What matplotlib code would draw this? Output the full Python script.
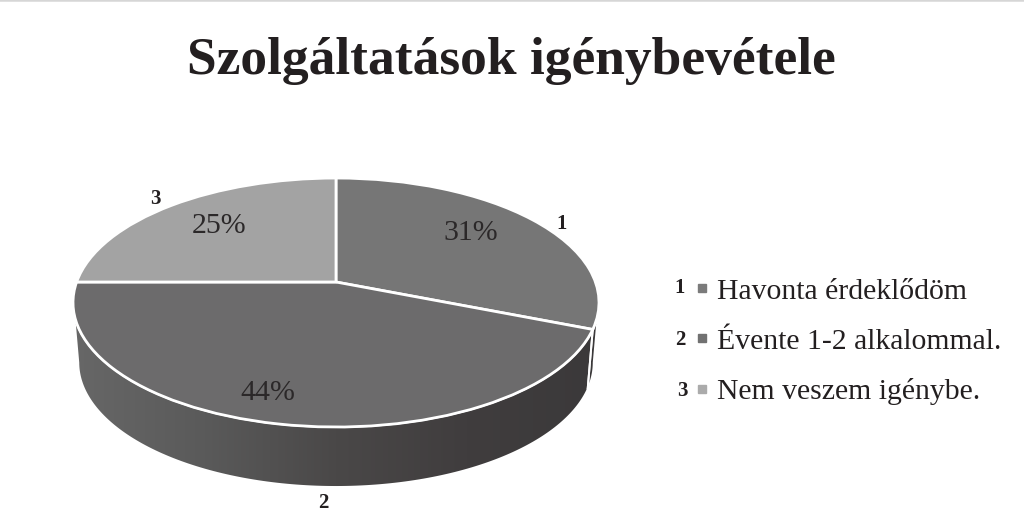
import numpy as np
import matplotlib
matplotlib.use("Agg")
import matplotlib.pyplot as plt
from matplotlib.lines import Line2D
from matplotlib.patches import Polygon
from matplotlib.transforms import Transform
from matplotlib.colors import LinearSegmentedColormap

plt.rcParams['font.family'] = ['Liberation Serif', 'DejaVu Serif']

title = "Szolgáltatások igénybevétele"
categories = ["Havonta érdeklődöm", "Évente 1-2 alkalommal.", "Nem veszem igénybe."]
numbers = ["1", "2", "3"]
shares = [31, 44, 25]
top_colors = ["#767676", "#6c6b6c", "#a3a3a3"]
legend_colors = ["#7b7b7b", "#717171", "#ababab"]
wall_stops = ["#676767", "#5a5a5a", "#4a4848", "#403d3e", "#3b393a"]

# perspective camera for the tilted pie, in pixel space
CX, CY, A, B, K = 336.0, 282.0, 259.4, 121.1, 0.1648
DEPTH, SHRINK = 60.0, 0.98


def project(pts, bottom=False):
    pts = np.asarray(pts, dtype=float)
    u, v = pts[:, 0], pts[:, 1]
    w = 1 + K * v
    s = SHRINK if bottom else 1.0
    return np.column_stack([CX + s * A * u / w, CY - B * v / w + (DEPTH if bottom else 0)])


class Tilt(Transform):
    input_dims = output_dims = 2
    is_separable = False

    def transform_non_affine(self, values):
        return project(values)


fig = plt.figure(figsize=(10.24, 5.11), dpi=100, facecolor="white")
ax = fig.add_axes([0, 0, 1, 1])

wedges, _ = ax.pie(shares, colors=top_colors, startangle=90, counterclock=False,
                   wedgeprops=dict(edgecolor="white", linewidth=2.0, zorder=5))
for wd in wedges:
    wd.set_transform(Tilt() + ax.transData)

ax.set_aspect("auto")
ax.set_xlim(0, 1024)
ax.set_ylim(511, 0)
ax.axis("off")


def clock(t):
    r = np.radians(t)
    return np.column_stack([np.sin(r), np.cos(r)])


def wall(t0, t1):
    t = np.linspace(t0, t1, 160)
    top = project(clock(t))
    bot = project(clock(t), bottom=True)
    return np.vstack([top, bot[::-1]])


edges = np.cumsum([0] + shares) * 3.6
tangent = np.degrees(np.arccos(-K))
cmap = LinearSegmentedColormap.from_list("wall", wall_stops)
grad = np.linspace(0, 1, 256).reshape(1, -1)

for t0, t1 in [(tangent, edges[1]), (edges[1], 360 - tangent)]:
    poly = Polygon(wall(t0, t1), closed=True, facecolor="none", edgecolor="white",
                   linewidth=1.4, transform=ax.transData, zorder=3)
    ax.add_patch(poly)
    im = ax.imshow(grad, extent=(73, 599, 511, 0), cmap=cmap, aspect="auto", zorder=2)
    im.set_clip_path(poly)

ax.set_xlim(0, 1024)
ax.set_ylim(511, 0)

ax.axhline(0.5, color="#d6d6d6", linewidth=1.8, zorder=1)

ax.text(511.5, 61, title, ha="center", va="center", fontsize=38.5, fontweight="bold",
        color="#231f20", zorder=10)

pct_pos = [(471, 233), (268, 393), (219, 226)]
for (x, y), s in zip(pct_pos, shares):
    ax.text(x, y, f"{s}%", ha="center", va="center", fontsize=21.5, color="#2b2829", zorder=10)

num_pos = [(562, 224), (323, 503), (155, 199)]
for (x, y), s in zip(num_pos, numbers):
    ax.text(x, y, s, ha="center", va="center", fontsize=15, fontweight="bold",
            color="#231f20", zorder=10)

handles = [Line2D([], [], linestyle="none", marker="s", markersize=5.8, color=c) for c in legend_colors]
ax.legend(handles, categories, loc="center left", bbox_to_anchor=(690, 341.5),
          bbox_transform=ax.transData, frameon=False, fontsize=21.4, labelcolor="#231f20",
          labelspacing=0.78, handlelength=0.8, handletextpad=0.1, borderpad=0, borderaxespad=0)

leg_num_pos = [(680, 288), (680, 340), (682, 391)]
for (x, y), s in zip(leg_num_pos, numbers):
    ax.text(x, y, s, ha="center", va="center", fontsize=15, fontweight="bold",
            color="#231f20", zorder=10)

fig.savefig("out.png", dpi=100, facecolor="white")
